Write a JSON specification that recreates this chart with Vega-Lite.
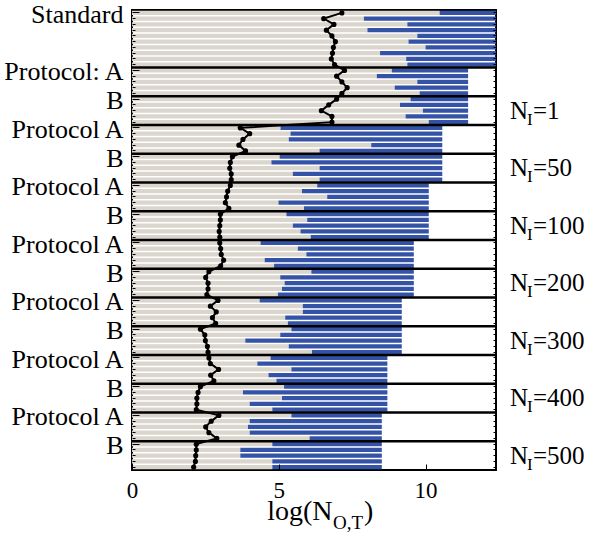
{
  "$schema": "https://vega.github.io/schema/vega-lite/v6.json",
  "autosize": {"type": "none"},
  "padding": {"left": 132, "top": 10, "right": 104, "bottom": 70},
  "width": 364,
  "height": 460,
  "background": "white",
  "config": {
    "view": {"stroke": "black", "strokeWidth": 2},
    "font": "Liberation Serif",
    "axis": {"labelFont": "Liberation Serif", "labelColor": "black", "tickColor": "black", "domain": false, "grid": false}
  },
  "datasets": {
    "rows": [
      {"r":0,"g":10.48,"b":12.4,"d":7.15},{"r":1,"g":7.90,"b":12.4,"d":6.53},{"r":2,"g":9.38,"b":12.4,"d":6.88},{"r":3,"g":8.02,"b":12.4,"d":6.62},{"r":4,"g":9.72,"b":12.4,"d":6.81},
      {"r":5,"g":9.42,"b":12.4,"d":6.93},{"r":6,"g":10.00,"b":12.4,"d":6.86},{"r":7,"g":8.45,"b":12.4,"d":6.83},{"r":8,"g":9.34,"b":12.4,"d":6.79},{"r":9,"g":9.38,"b":12.4,"d":6.90},
      {"r":10,"g":8.85,"b":11.45,"d":7.24},{"r":11,"g":8.34,"b":11.45,"d":6.97},{"r":12,"g":9.72,"b":11.45,"d":7.15},{"r":13,"g":8.95,"b":11.45,"d":7.33},{"r":14,"g":9.80,"b":11.45,"d":7.15},
      {"r":15,"g":9.49,"b":11.45,"d":6.97},{"r":16,"g":9.13,"b":11.45,"d":6.70},{"r":17,"g":9.91,"b":11.45,"d":6.45},{"r":18,"g":9.32,"b":11.45,"d":6.81},{"r":19,"g":10.11,"b":11.45,"d":6.81},
      {"r":20,"g":5.06,"b":10.57,"d":3.69},{"r":21,"g":5.40,"b":10.57,"d":4.01},{"r":22,"g":5.34,"b":10.57,"d":3.78},{"r":23,"g":8.15,"b":10.57,"d":3.64},{"r":24,"g":6.39,"b":10.57,"d":3.87},
      {"r":25,"g":5.03,"b":10.57,"d":3.42},{"r":26,"g":4.75,"b":10.57,"d":3.35},{"r":27,"g":6.39,"b":10.57,"d":3.33},{"r":28,"g":5.48,"b":10.57,"d":3.38},{"r":29,"g":6.39,"b":10.57,"d":3.38},
      {"r":30,"g":6.31,"b":10.11,"d":3.35},{"r":31,"g":5.79,"b":10.11,"d":3.26},{"r":32,"g":6.65,"b":10.11,"d":3.22},{"r":33,"g":4.99,"b":10.11,"d":3.18},{"r":34,"g":5.86,"b":10.11,"d":3.30},
      {"r":35,"g":5.26,"b":10.11,"d":3.01},{"r":36,"g":5.97,"b":10.11,"d":3.01},{"r":37,"g":5.48,"b":10.11,"d":2.99},{"r":38,"g":5.74,"b":10.11,"d":2.97},{"r":39,"g":6.09,"b":10.11,"d":2.99},
      {"r":40,"g":4.38,"b":9.60,"d":2.99},{"r":41,"g":5.65,"b":9.60,"d":3.02},{"r":42,"g":5.94,"b":9.60,"d":3.04},{"r":43,"g":4.52,"b":9.60,"d":3.12},{"r":44,"g":4.84,"b":9.60,"d":3.02},
      {"r":45,"g":6.11,"b":9.60,"d":2.62},{"r":46,"g":5.05,"b":9.60,"d":2.51},{"r":47,"g":5.20,"b":9.60,"d":2.59},{"r":48,"g":5.11,"b":9.60,"d":2.59},{"r":49,"g":4.97,"b":9.60,"d":2.55},
      {"r":50,"g":4.35,"b":9.19,"d":2.93},{"r":51,"g":5.82,"b":9.19,"d":2.67},{"r":52,"g":5.82,"b":9.19,"d":2.87},{"r":53,"g":5.22,"b":9.19,"d":2.74},{"r":54,"g":5.31,"b":9.19,"d":2.85},
      {"r":55,"g":5.43,"b":9.19,"d":2.33},{"r":56,"g":5.05,"b":9.19,"d":2.48},{"r":57,"g":3.86,"b":9.19,"d":2.50},{"r":58,"g":5.34,"b":9.19,"d":2.57},{"r":59,"g":6.13,"b":9.19,"d":2.59},
      {"r":60,"g":4.72,"b":8.70,"d":2.62},{"r":61,"g":4.27,"b":8.70,"d":2.67},{"r":62,"g":5.43,"b":8.70,"d":2.95},{"r":63,"g":4.65,"b":8.70,"d":2.68},{"r":64,"g":4.92,"b":8.70,"d":2.79},
      {"r":65,"g":5.18,"b":8.70,"d":2.33},{"r":66,"g":3.78,"b":8.70,"d":2.25},{"r":67,"g":5.11,"b":8.70,"d":2.21},{"r":68,"g":4.01,"b":8.70,"d":2.21},{"r":69,"g":4.78,"b":8.70,"d":2.19},
      {"r":70,"g":5.43,"b":8.51,"d":2.96},{"r":71,"g":4.01,"b":8.51,"d":2.70},{"r":72,"g":3.95,"b":8.51,"d":2.51},{"r":73,"g":4.01,"b":8.51,"d":2.62},{"r":74,"g":6.05,"b":8.51,"d":2.89},
      {"r":75,"g":4.78,"b":8.51,"d":2.19},{"r":76,"g":3.69,"b":8.51,"d":2.19},{"r":77,"g":3.69,"b":8.51,"d":2.17},{"r":78,"g":4.78,"b":8.51,"d":2.16},{"r":79,"g":4.78,"b":8.51,"d":2.10}
    ],
    "seps": [{"r":10},{"r":15},{"r":20},{"r":25},{"r":30},{"r":35},{"r":40},{"r":45},{"r":50},{"r":55},{"r":60},{"r":65},{"r":70},{"r":75}],
    "ni": [{"r":17,"v":"=1"},{"r":27,"v":"=50"},{"r":37,"v":"=100"},{"r":47,"v":"=200"},{"r":57,"v":"=300"},{"r":67,"v":"=400"},{"r":77,"v":"=500"}],
    "xt": [{"r":79}]
  },
  "resolve": {"axis": {"y": "independent"}},
  "layer": [
    {
      "data": {"name": "rows"},
      "mark": {"type": "bar", "color": "#dad6cd", "height": {"band": 0.78}},
      "encoding": {
        "y": {"field": "r", "type": "ordinal",
              "scale": {"type": "band", "paddingInner": 0, "paddingOuter": 0},
              "axis": {"orient": "left", "title": null, "labelExpr": "datum.value == 0 ? 'Standard' : datum.value == 10 ? 'Protocol: A' : (datum.value >= 20 && datum.value % 10 == 0) ? 'Protocol A' : (datum.value >= 15 && datum.value % 10 == 5) ? 'B' : ''",
                       "labelFontSize": 26, "labelPadding": 16, "labelOffset": 2, "labelOverlap": false, "labelBaseline": "middle",
                       "tickSize": {"condition": {"test": "datum.value == 0 || (datum.value >= 10 && datum.value % 5 == 0)", "value": -7}, "value": -3},
                       "tickWidth": 1, "zindex": 1}},
        "x": {"field": "g", "type": "quantitative",
              "scale": {"domain": [0, 12.4], "nice": false, "zero": true},
              "axis": {"values": [0, 5, 10], "title": null, "labelFontSize": 23, "tickSize": -6, "labelPadding": 15, "zindex": 1, "labelFlush": false}}
      }
    },
    {
      "data": {"name": "rows"},
      "mark": {"type": "bar", "color": "#3553a6", "height": {"band": 0.78}, "clip": true},
      "encoding": {
        "y": {"field": "r", "type": "ordinal",
              "axis": {"orient": "right", "title": null, "labels": false, "tickSize": -3, "tickWidth": 1, "zindex": 1}},
        "x": {"field": "g", "type": "quantitative"},
        "x2": {"field": "b"}
      }
    },
    {
      "data": {"name": "seps"},
      "mark": {"type": "rule", "color": "black", "strokeWidth": 2.5},
      "encoding": {
        "y": {"field": "r", "type": "ordinal", "bandPosition": 0, "axis": null}
      }
    },
    {
      "data": {"name": "rows"},
      "mark": {"type": "line", "color": "black", "strokeWidth": 2, "point": {"filled": true, "color": "black", "size": 26}},
      "encoding": {
        "y": {"field": "r", "type": "ordinal", "axis": null},
        "x": {"field": "d", "type": "quantitative"},
        "order": {"field": "r"}
      }
    },
    {
      "data": {"name": "ni"},
      "mark": {"type": "text", "align": "left", "baseline": "middle", "fontSize": 25, "dx": 14, "color": "black", "font": "Liberation Serif"},
      "encoding": {
        "y": {"field": "r", "type": "ordinal", "axis": null},
        "x": {"datum": 12.4},
        "text": {"value": "N"}
      }
    },
    {
      "data": {"name": "ni"},
      "mark": {"type": "text", "align": "left", "baseline": "middle", "fontSize": 17, "dx": 31, "dy": 9, "color": "black", "font": "Liberation Serif"},
      "encoding": {
        "y": {"field": "r", "type": "ordinal", "axis": null},
        "x": {"datum": 12.4},
        "text": {"value": "I"}
      }
    },
    {
      "data": {"name": "ni"},
      "mark": {"type": "text", "align": "left", "baseline": "middle", "fontSize": 25, "dx": 37, "color": "black", "font": "Liberation Serif"},
      "encoding": {
        "y": {"field": "r", "type": "ordinal", "axis": null},
        "x": {"datum": 12.4},
        "text": {"field": "v"}
      }
    },
    {
      "data": {"name": "xt"},
      "mark": {"type": "text", "align": "right", "baseline": "alphabetic", "fontSize": 28, "dy": 53, "color": "black", "font": "Liberation Serif"},
      "encoding": {
        "y": {"field": "r", "type": "ordinal", "axis": null},
        "x": {"datum": 6.83},
        "text": {"value": "log(N"}
      }
    },
    {
      "data": {"name": "xt"},
      "mark": {"type": "text", "align": "left", "baseline": "alphabetic", "fontSize": 19, "dy": 62, "color": "black", "font": "Liberation Serif"},
      "encoding": {
        "y": {"field": "r", "type": "ordinal", "axis": null},
        "x": {"datum": 6.85},
        "text": {"value": "O,T"}
      }
    },
    {
      "data": {"name": "xt"},
      "mark": {"type": "text", "align": "left", "baseline": "alphabetic", "fontSize": 28, "dy": 53, "color": "black", "font": "Liberation Serif"},
      "encoding": {
        "y": {"field": "r", "type": "ordinal", "axis": null},
        "x": {"datum": 7.9},
        "text": {"value": ")"}
      }
    }
  ]
}
